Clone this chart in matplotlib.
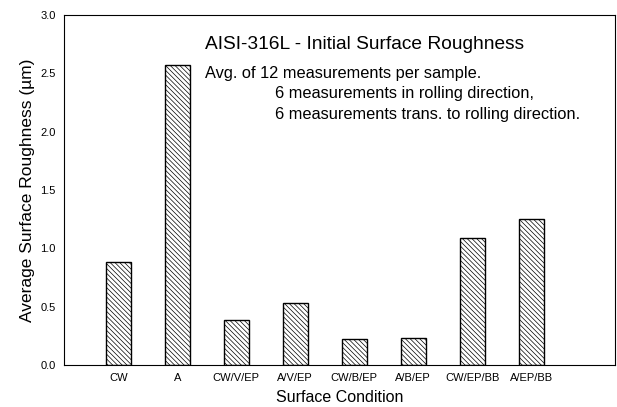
import matplotlib.pyplot as plt

plt.rcParams['font.family'] = ['Liberation Sans', 'DejaVu Sans']
plt.rcParams['hatch.linewidth'] = 0.5

conditions = ["CW", "A", "CW/V/EP", "A/V/EP", "CW/B/EP", "A/B/EP", "CW/EP/BB", "A/EP/BB"]
roughness = [0.88, 2.57, 0.39, 0.53, 0.22, 0.23, 1.09, 1.25]

fig = plt.figure(figsize=(6.17, 4.07), dpi=100)
ax = fig.add_axes([64 / 617, 1 - 365 / 407, 551 / 617, 350 / 407])

x = range(len(conditions))
ax.bar(x, roughness, width=0.42, color='white', edgecolor='black',
       hatch='\\' * 7, linewidth=1.0)

ax.set_xlim(-0.92, 8.42)
ax.set_ylim(0, 3.0)
ax.set_yticks([0.0, 0.5, 1.0, 1.5, 2.0, 2.5, 3.0])
ax.set_yticklabels(['%.1f' % v for v in [0.0, 0.5, 1.0, 1.5, 2.0, 2.5, 3.0]], fontsize=8)
ax.set_xticks(list(x))
ax.set_xticklabels(conditions, fontsize=8)
ax.tick_params(axis='both', length=0)
ax.tick_params(axis='x', pad=6)
ax.tick_params(axis='y', pad=6)
for s in ax.spines.values():
    s.set_linewidth(0.8)

ax.set_xlabel("Surface Condition", fontsize=11.5, labelpad=5)
ax.set_ylabel("Average Surface Roughness (\u00b5m)", fontsize=12.5)

ax.text(0.255, 0.915, "AISI-316L - Initial Surface Roughness", transform=ax.transAxes,
        fontsize=13.8, va='center', ha='left')
ax.text(0.255, 0.833, "Avg. of 12 measurements per sample.", transform=ax.transAxes,
        fontsize=11.8, va='center', ha='left')
ax.text(0.383, 0.776, "6 measurements in rolling direction,", transform=ax.transAxes,
        fontsize=11.8, va='center', ha='left')
ax.text(0.383, 0.717, "6 measurements trans. to rolling direction.", transform=ax.transAxes,
        fontsize=11.8, va='center', ha='left')

plt.savefig('out.png', dpi=100)
